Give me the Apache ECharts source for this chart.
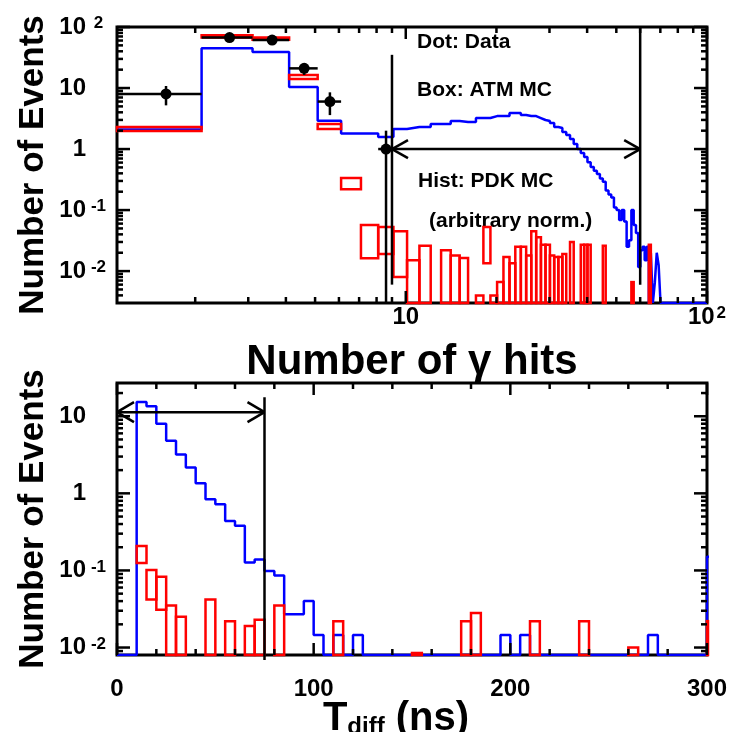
<!DOCTYPE html>
<html><head><meta charset="utf-8"><title>chart</title>
<script src="https://cdn.jsdelivr.net/npm/echarts@6/dist/echarts.min.js"></script>
<style>html,body{margin:0;padding:0;background:#fff;}#main{width:737px;height:732px;}</style>
</head><body><div id="main"></div>
<script>
// ================= DATA : top panel (Number of gamma hits) =================
const hitBinLow = [1.1,2.1,3.1,4.1,5.1,6.1,7.1,8.1,9.1,10.1,11.1,12.1,13.1,14.1,15.1,16.1,17.1,18.1,19.1,20.1,
  21.1,22.1,23.1,24.1,25.1,26.1,27.1,28.1,29.1,30.1,31.1,32.1,33.1,34.1,35.1,36.1,37.1,38.1,39.1,40.1,
  41.1,42.1,43.1,44.1,45.1,46.1,47.1,48.1,49.1,50.1,51.1,52.1,53.1,54.1,55.1,56.1,57.1,58.1,59.1,60.1,
  61.1,62.1,63.1,64.1,65.1,66.1,67.1,68.1,69.1,70.1];
const hitLastEdge = 100;
// PDK MC (blue histogram, arbitrary norm.)
const pdkHits = [2.1,45,39,10.4,2.9,1.8,1.8,1.57,2.13,2.29,
  2.29,2.57,2.57,2.88,2.77,2.77,3.22,3.22,3.47,3.47,
  3.47,3.89,3.89,3.6,3.47,3.47,3.22,2.99,2.88,2.67,
  2.29,2.21,1.9,1.7,1.46,1.21,1.0,0.86,0.74,0.61,
  0.51,0.44,0.39,0.33,0.29,0.21,0.18,0.16,0.11,0.1,
  0.069,0.1,0.065,0.025,0.032,0.1,0.057,0.042,0.0117,0.022,
  0.025,0.015,0.025,0,0.02,0,0.0064,0.02,0.0125,0];
// ATM MC (red boxes) : bin low edge, box low, box high
const atmHitBinLow = [1.1,2.1,3.1,4.1,5.1,6.1,7.1,8.1,9.1,10.1,11.1,13.1,14.1,15.1,17.1,18.1,19.1,20.1,21.1,22.1,
  23.1,24.1,25.1,26.1,27.1,28.1,29.1,30.1,31.1,32.1,33.1,35.1,38.1,39.1,40.1,45.1,56.1,64.1];
const atmHitHi = [2.29,73,67,16.3,2.57,0.335,0.057,0.053,0.045,0.015,0.026,0.022,0.018,0.0164,0.004,0.053,0.004,0.0066,0.017,0.0135,
  0.025,0.025,0.018,0.045,0.036,0.027,0.027,0.018,0.017,0.017,0.019,0.03,0.027,0.027,0.027,0.026,0.0066,0.027];
const atmHitLo = [1.97,67,62,14,2.13,0.22,0.0163,0.019,0.008,0,0,0,0,0,0,0.0135,0,0,0,0,
  0,0,0,0,0,0,0,0,0,0,0,0,0,0,0,0,0,0];
// Data (black dots)
const dataHitBinLow = [1.1,2.1,3.1,4.1,5.1,8.1];
const dataHitCounts = [8,67,61,21,6,1];
const dataHitErrLo = [5.2,59,53,16.4,3.6,0];
const dataHitErrHi = [10.8,75,69,25.6,8.5,2];
// cut
const hitCutValues = [9,60];
const hitCutTop = [35,100];
const hitCutBottom = [0.006,0.006];
const hitArrowLevel = 1;

// ================= DATA : bottom panel (T_diff) =================
const tdiffBinLow = [0,5,10,15,20,25,30,35,40,45,50,55,60,65,70,75,80,85,90,95,
  100,105,110,115,120,125,130,135,140,145,150,155,160,165,170,175,180,185,190,195,
  200,205,210,215,220,225,230,235,240,245,250,255,260,265,270,275,280,285,290,295,300];
const tdiffLastEdge = 305;
const pdkTdiff = [0,0,15.3,13.5,8.0,4.8,3.2,2.16,1.35,0.84,
  0.72,0.437,0.38,0.127,0.139,0.098,0.086,0.027,0.027,0.040,
  0.0145,0,0.0145,0,0.0145,0,0,0,0,0,
  0,0,0,0,0,0,0,0,0,0.0145,
  0,0.0145,0,0,0,0,0,0,0,0,
  0,0,0,0,0.0145,0,0,0,0,0,0.15];
const atmTdiffBinLow = [10,15,20,25,30,45,55,65,70,80,110,150,175,180,210,235,260,300];
const atmTdiffHi = [0.207,0.101,0.083,0.035,0.025,0.042,0.022,0.019,0.023,0.035,0.022,0.0085,0.022,0.028,0.022,0.022,0.01,0.022];
const atmTdiffLo = [0.125,0.042,0.031,0,0,0,0,0,0,0,0,0,0,0,0,0,0,0];
const tdiffCut = 75;
const tdiffCutTop = 17.6;
const tdiffArrowLevel = 11.3;

// tick values
const topXMajor = [10,100];
const topXMinor = [2,3,4,5,6,7,8,9,20,30,40,50,60,70,80,90];
const topYMajor = [0.01,0.1,1,10,100];
const topYMinor = [0.004,0.005,0.006,0.007,0.008,0.009,0.02,0.03,0.04,0.05,0.06,0.07,0.08,0.09,
  0.2,0.3,0.4,0.5,0.6,0.7,0.8,0.9,2,3,4,5,6,7,8,9,20,30,40,50,60,70,80,90];
const botXMajor = [0,100,200,300];
const botXMinor = [20,40,60,80,120,140,160,180,220,240,260,280];
const botYMajor = [0.01,0.1,1,10];
const botYMinor = [0.009,0.02,0.03,0.04,0.05,0.06,0.07,0.08,0.09,0.2,0.3,0.4,0.5,0.6,0.7,0.8,0.9,2,3,4,5,6,7,8,9,20];

// axis ranges
const TOP_XMIN = 1.1, TOP_XMAX = 100, TOP_YMIN = 0.003, TOP_YMAX = 100;
const BOT_XMIN = 0, BOT_XMAX = 300, BOT_YMIN = 0.008, BOT_YMAX = 27;

// ================= helpers =================
const FONT = '"Liberation Sans", Arial, Helvetica, sans-serif';
const BLUE = '#0000ff', RED = '#ff0000';

function stepData(lows, vals, last, floor) {
  const d = lows.map((x, i) => [x, vals[i] > 0 ? vals[i] : floor]);
  d.push([last, vals[vals.length - 1] > 0 ? vals[vals.length - 1] : floor]);
  return d;
}
function ln(x1, y1, x2, y2, w, c) {
  return {type: 'line', shape: {x1, y1, x2, y2}, style: {stroke: c || '#000', lineWidth: w || 2.5}};
}
function tickSeries(xi, yi, xMaj, xMin, yMaj, yMin, refX, refY) {
  const data = [];
  xMin.forEach(v => data.push([v, refY, 0]));
  xMaj.forEach(v => data.push([v, refY, 1]));
  yMin.forEach(v => data.push([refX, v, 2]));
  yMaj.forEach(v => data.push([refX, v, 3]));
  return {
    type: 'custom', xAxisIndex: xi, yAxisIndex: yi, data, z: 10, silent: true,
    renderItem(params, api) {
      const cs = params.coordSys; const k = api.value(2);
      const p = api.coord([api.value(0), api.value(1)]);
      if (k < 2) {
        const L = k === 1 ? 12 : 6; const x = p[0];
        return {type: 'group', children: [ln(x, cs.y + cs.height, x, cs.y + cs.height - L, 2.5), ln(x, cs.y, x, cs.y + L, 2.5)]};
      } else {
        const L = k === 3 ? 13 : 6; const y = p[1];
        return {type: 'group', children: [ln(cs.x, y, cs.x + L, y, 2.5), ln(cs.x + cs.width, y, cs.x + cs.width - L, y, 2.5)]};
      }
    }
  };
}
function boxSeries(xi, yi, lows, width, lo, hi, floor) {
  const data = lows.map((x, i) => [x, x + width, lo[i] > 0 ? lo[i] : floor / 10, hi[i]]);
  return {
    type: 'custom', xAxisIndex: xi, yAxisIndex: yi, data, z: 4, silent: true,
    renderItem(params, api) {
      const cs = params.coordSys;
      const p1 = api.coord([api.value(0), api.value(3)]);
      const p2 = api.coord([api.value(1), api.value(2)]);
      const r = echarts.graphic.clipRectByRect(
        {x: p1[0], y: p1[1], width: p2[0] - p1[0], height: p2[1] - p1[1]},
        {x: cs.x, y: cs.y, width: cs.width + 1, height: cs.height});
      if (!r) return null;
      return {type: 'rect', shape: r, style: {fill: 'none', stroke: RED, lineWidth: 2.5}};
    }
  };
}

// ================= chart =================
const chart = echarts.init(document.getElementById('main'), null, {renderer: 'canvas'});

const yRich = {
  b: {fontFamily: FONT, fontWeight: 'bold', fontSize: 24, color: '#000', lineHeight: 24, padding: [11, 0, 0, 0], verticalAlign: 'bottom'},
  s: {fontFamily: FONT, fontWeight: 'bold', fontSize: 17, color: '#000', lineHeight: 17, width: 19, align: 'left', verticalAlign: 'top', padding: [0, 0, 0, 3]},
  sp: {fontFamily: FONT, fontSize: 17, lineHeight: 17, width: 22, verticalAlign: 'top'}
};
const xRich = {
  b: {fontFamily: FONT, fontWeight: 'bold', fontSize: 24, color: '#000', lineHeight: 24, padding: [4, 0, 0, 0], verticalAlign: 'bottom'},
  s: {fontFamily: FONT, fontWeight: 'bold', fontSize: 17, color: '#000', lineHeight: 15, verticalAlign: 'top', padding: [0, 0, 0, 2]}
};
function powInfo(v) { const l = Math.log10(v); const e = Math.round(l); return Math.abs(l - e) < 1e-6 ? e : null; }
function yLogLabel(v) {
  const e = powInfo(v);
  if (e === null) return '';
  if (e === 0) return '{b|1}{sp| }';
  if (e === 1) return '{b|10}{sp| }';
  return '{b|10}{s|' + e + '}';
}
function xLogLabel(v) {
  const e = powInfo(v);
  if (e === 1) return '{b|10}';
  if (e === 2) return '{b|10}{s|2}';
  return '';
}
const yTitleStyle = {fontFamily: FONT, fontWeight: 'bold', fontSize: 35, color: '#000'};
const xTitleStyle = {fontFamily: FONT, fontWeight: 'bold', fontSize: 42, color: '#000'};
const noAxisLine = {show: false};

const option = {
  backgroundColor: '#fff',
  animation: false,
  grid: [
    {left: 117, top: 27, width: 590, height: 276, show: true, borderColor: '#000', borderWidth: 3, backgroundColor: 'transparent', containLabel: false, outerBoundsMode: 'none'},
    {left: 117, top: 383, width: 590, height: 272, show: true, borderColor: '#000', borderWidth: 3, backgroundColor: 'transparent', containLabel: false, outerBoundsMode: 'none'}
  ],
  xAxis: [
    {type: 'log', gridIndex: 0, min: TOP_XMIN, max: TOP_XMAX, logBase: 10,
      axisLine: noAxisLine, axisTick: {show: false}, splitLine: {show: false}, minorTick: {show: false},
      axisLabel: {formatter: xLogLabel, rich: xRich, margin: 2, showMinLabel: false},
      name: 'Number of γ hits', nameLocation: 'middle', nameGap: 38, nameMoveOverlap: false, nameTextStyle: xTitleStyle},
    {type: 'value', gridIndex: 1, min: BOT_XMIN, max: BOT_XMAX, interval: 100,
      axisLine: noAxisLine, axisTick: {show: false}, splitLine: {show: false},
      axisLabel: {formatter: v => (v % 100 === 0 ? String(v) : ''), fontFamily: FONT, fontWeight: 'bold', fontSize: 24, color: '#000', margin: 22},
      name: '{t|T}{sub|diff}{t| (ns)}', nameLocation: 'middle', nameGap: 44, nameMoveOverlap: false,
      nameTextStyle: {padding: [0, 32, 0, 0], rich: {
        t: {fontFamily: FONT, fontWeight: 'bold', fontSize: 40, color: '#000', lineHeight: 40, verticalAlign: 'top'},
        sub: {fontFamily: FONT, fontWeight: 'bold', fontSize: 24, color: '#000', lineHeight: 24, verticalAlign: 'bottom', padding: [20, 0, 0, 0]}
      }}}
  ],
  yAxis: [
    {type: 'log', gridIndex: 0, min: TOP_YMIN, max: TOP_YMAX, logBase: 10,
      axisLine: noAxisLine, axisTick: {show: false}, splitLine: {show: false},
      axisLabel: {formatter: yLogLabel, rich: yRich, margin: 9, align: 'right'},
      name: 'Number of Events', nameLocation: 'middle', nameGap: 66, nameMoveOverlap: false, nameTextStyle: yTitleStyle},
    {type: 'log', gridIndex: 1, min: BOT_YMIN, max: BOT_YMAX, logBase: 10,
      axisLine: noAxisLine, axisTick: {show: false}, splitLine: {show: false},
      axisLabel: {formatter: yLogLabel, rich: yRich, margin: 9, align: 'right'},
      name: 'Number of Events', nameLocation: 'middle', nameGap: 66, nameMoveOverlap: false, nameTextStyle: yTitleStyle}
  ],
  series: [
    // ---- top ----
    {type: 'line', xAxisIndex: 0, yAxisIndex: 0, step: 'end', symbol: 'none', clip: true, z: 3, silent: true,
      lineStyle: {color: BLUE, width: 2.5}, data: stepData(hitBinLow, pdkHits, hitLastEdge, TOP_YMIN)},
    boxSeries(0, 0, atmHitBinLow, 1, atmHitLo, atmHitHi, TOP_YMIN),
    {type: 'custom', xAxisIndex: 0, yAxisIndex: 0, z: 6, silent: true,
      data: dataHitBinLow.map((x, i) => [x + 0.5, dataHitCounts[i], x, x + 1, dataHitErrLo[i], dataHitErrHi[i]]),
      renderItem(params, api) {
        const cs = params.coordSys;
        const c = api.coord([api.value(0), api.value(1)]);
        const l = api.coord([api.value(2), api.value(1)]);
        const r = api.coord([api.value(3), api.value(1)]);
        const lo = api.value(4);
        const eLoY = lo > 0 ? api.coord([api.value(0), lo])[1] : cs.y + cs.height;
        const eHiY = api.coord([api.value(0), api.value(5)])[1];
        return {type: 'group', children: [
          ln(l[0], c[1], r[0], c[1], 2.5),
          ln(c[0], Math.min(eLoY, cs.y + cs.height), c[0], eHiY, 2.5),
          {type: 'circle', shape: {cx: c[0], cy: c[1], r: 5.5}, style: {fill: '#000'}}
        ]};
      }},
    {type: 'custom', xAxisIndex: 0, yAxisIndex: 0, z: 7, silent: true,
      data: hitCutValues.map((x, i) => [x, hitCutTop[i], hitCutBottom[i]]),
      renderItem(params, api) {
        const a = api.coord([api.value(0), api.value(1)]);
        const b = api.coord([api.value(0), api.value(2)]);
        return ln(a[0], a[1], b[0], b[1], 2.5);
      }},
    {type: 'custom', xAxisIndex: 0, yAxisIndex: 0, z: 7, silent: true,
      data: [[hitCutValues[0], hitArrowLevel, hitCutValues[1]]],
      renderItem(params, api) {
        const a = api.coord([api.value(0), api.value(1)]);
        const b = api.coord([api.value(2), api.value(1)]);
        const y = a[1];
        return {type: 'group', children: [
          ln(a[0], y, b[0], y, 2.5),
          ln(a[0], y, a[0] + 16, y - 9, 2.5), ln(a[0], y, a[0] + 16, y + 9, 2.5),
          ln(b[0], y, b[0] - 16, y - 9, 2.5), ln(b[0], y, b[0] - 16, y + 9, 2.5)
        ]};
      }},
    tickSeries(0, 0, topXMajor, topXMinor, topYMajor, topYMinor, 10, 1),
    // ---- bottom ----
    {type: 'line', xAxisIndex: 1, yAxisIndex: 1, step: 'end', symbol: 'none', clip: true, z: 3, silent: true,
      lineStyle: {color: BLUE, width: 2.5}, data: stepData(tdiffBinLow, pdkTdiff, tdiffLastEdge, BOT_YMIN)},
    boxSeries(1, 1, atmTdiffBinLow, 5, atmTdiffLo, atmTdiffHi, BOT_YMIN),
    {type: 'custom', xAxisIndex: 1, yAxisIndex: 1, z: 7, silent: true,
      data: [[tdiffCut, tdiffCutTop, tdiffArrowLevel]],
      renderItem(params, api) {
        const cs = params.coordSys;
        const a = api.coord([api.value(0), api.value(1)]);
        const y = api.coord([api.value(0), api.value(2)])[1];
        const x0 = api.coord([0, api.value(2)])[0];
        return {type: 'group', children: [
          ln(a[0], a[1], a[0], cs.y + cs.height + 5, 2.5),
          ln(x0, y, a[0], y, 2.5),
          ln(x0, y, x0 + 17, y - 10, 2.5), ln(x0, y, x0 + 17, y + 10, 2.5),
          ln(a[0], y, a[0] - 17, y - 10, 2.5), ln(a[0], y, a[0] - 17, y + 10, 2.5)
        ]};
      }},
    tickSeries(1, 1, botXMajor, botXMinor, botYMajor, botYMinor, 100, 1)
  ],
  graphic: [
    {type: 'text', x: 417, y: 42, style: {text: 'Dot: Data', font: 'bold 21px ' + FONT, fill: '#000', textVerticalAlign: 'middle', verticalAlign: 'middle'}},
    {type: 'text', x: 417, y: 90, style: {text: 'Box: ATM MC', font: 'bold 21px ' + FONT, fill: '#000', textVerticalAlign: 'middle', verticalAlign: 'middle'}},
    {type: 'text', x: 418, y: 181, style: {text: 'Hist: PDK MC', font: 'bold 21px ' + FONT, fill: '#000', textVerticalAlign: 'middle', verticalAlign: 'middle'}},
    {type: 'text', x: 429, y: 221, style: {text: '(arbitrary norm.)', font: 'bold 21px ' + FONT, fill: '#000', textVerticalAlign: 'middle', verticalAlign: 'middle'}}
  ]
};
chart.setOption(option);
</script></body></html>
